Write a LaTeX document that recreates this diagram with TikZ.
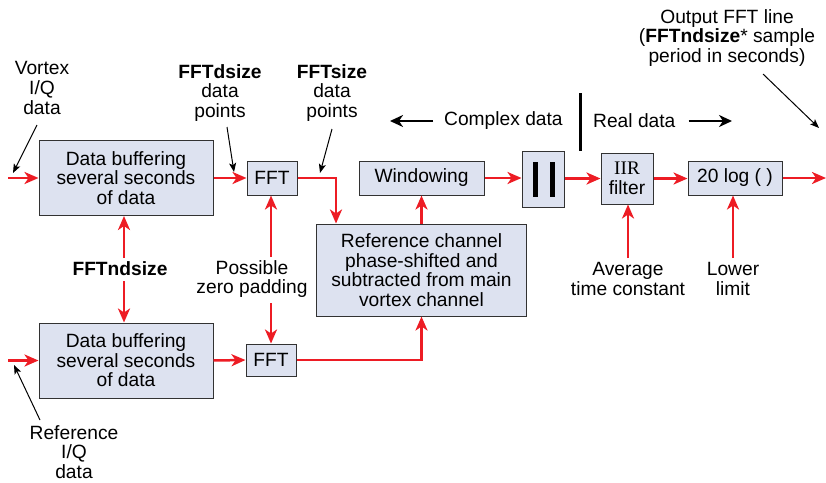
\documentclass[tikz,border=0pt]{standalone}
\usepackage{fontspec}
\setmainfont{Liberation Sans}
\newfontfamily\serifff{Liberation Serif}
\usetikzlibrary{arrows.meta,calc}
\definecolor{boxfill}{RGB}{221,226,240}
\definecolor{boxline}{RGB}{50,50,50}
\definecolor{sigred}{RGB}{237,28,36}
\tikzset{
  blk/.style={draw=boxline, fill=boxfill, line width=1pt, align=center, inner sep=0pt,
     font=\fontsize{19.2}{19.6}\selectfont},
  lbl/.style={align=center, inner sep=0pt, font=\fontsize{19.2}{19.6}\selectfont},
  sig/.style={draw=sigred, line width=2.5pt, -{Stealth[length=14pt,width=12pt,inset=4pt]}},
  note/.style={draw=black, line width=1pt, -{Stealth[length=9pt,width=7pt,inset=2pt]}},
  dirarr/.style={draw=black, line width=2.6pt, -{Stealth[length=13pt,width=12pt,inset=4pt]}},
}
\begin{document}
\begin{tikzpicture}[x=1pt,y=-1pt]
\path[use as bounding box] (0,0) rectangle (826,482);

% blocks
\node[blk, minimum width=174pt, minimum height=75pt] (buf1) at (126,178) {Data buffering\\several seconds\\of data};
\node[blk, minimum width=50pt, minimum height=34pt] (fft1) at (272,178) {FFT};
\node[blk, minimum width=125pt, minimum height=34pt] (win) at (421.5,178) {Windowing};
\node[blk, minimum width=42pt, minimum height=56pt] (abs) at (543,179) {};
\node[blk, minimum width=52pt, minimum height=51pt] (iir) at (627,178.5) {{\serifff IIR}\\filter};
\node[blk, minimum width=94pt, minimum height=34pt] (log) at (735,178) {20 log ( )};
\node[blk, minimum width=210pt, minimum height=92pt] (ref) at (421.5,270) {Reference channel\\phase-shifted and\\subtracted from main\\vortex channel};
\node[blk, minimum width=50pt, minimum height=32pt] (fft2) at (271,360) {FFT};
\node[blk, minimum width=174pt, minimum height=75pt] (buf2) at (126,360.5) {Data buffering\\several seconds\\of data};

% absolute value bars
\fill[black] (532.5,162) rectangle (537.5,197);
\fill[black] (549.5,162) rectangle (554.5,197);

% free ends
\coordinate (in1) at (8,178);
\coordinate (in2) at (8,360.5);
\coordinate (out) at (826,178);
\coordinate (avgtop) at (628,258);
\coordinate (lowtop) at (733,258);
\coordinate (ndtop) at (124,258);
\coordinate (ndbot) at (124,281);
\coordinate (pztop) at (271,257);
\coordinate (pzbot) at (271,303);

% signal connectors
\draw[sig] (in1) -- (buf1.west);
\draw[sig] (in2) -- (buf2.west);
\draw[sig] (buf1.east) -- (fft1.west);
\draw[sig] (fft1.east) -| ([xshift=20pt]ref.north west);
\draw[sig] (win.south |- ref.north) -- (win.south);
\draw[sig] (win.east) -- (abs.west |- win.east);
\draw[sig] (abs.east |- iir.west) -- (iir.west);
\draw[sig] (iir.east) -- (log.west |- iir.east);
\draw[sig] (log.east) -- (out);
\draw[sig] (avgtop) -- (iir.south -| avgtop);
\draw[sig] (lowtop) -- (log.south -| lowtop);
\draw[sig] (buf2.east) -- (fft2.west);
\draw[sig] (fft2.east) -| (ref.south);
\draw[sig] (ndtop) -- (buf1.south -| ndtop);
\draw[sig] (ndbot) -- (buf2.north -| ndbot);
\draw[sig] (pztop) -- (fft1.south -| pztop);
\draw[sig] (pzbot) -- (fft2.north -| pzbot);

% labels
\node[lbl] (ndsize) at (120,269) {\textbf{FFTndsize}};
\node[lbl] (pz) at (252,279) {Possible\\zero padding};
\node[lbl] (avg) at (628,279) {Average\\time constant};
\node[lbl] (low) at (733,279) {Lower\\limit};
\node[lbl] (vortex) at (42,88) {Vortex\\I/Q\\data};
\node[lbl] (refiq) at (74,452) {Reference\\I/Q\\data};
\node[lbl] (dsize) at (220,93) {\textbf{FFTdsize}\\data\\points};
\node[lbl] (fsize) at (332,93) {\textbf{FFTsize}\\data\\points};
\node[lbl] (outl) at (727,38) {Output FFT line\\(\textbf{FFTndsize}* sample\\period in seconds)};
\node[lbl, anchor=west] (cplx) at (444,121) {Complex data};
\node[lbl, anchor=west] (real) at (593,121) {Real data};

% domain separator and direction arrows
\draw[black, line width=3pt] (580,93) -- (580,151);
\coordinate (cplxend) at (390,121);
\coordinate (realend) at (732,121);
\draw[dirarr] ([xshift=-11pt]cplx.west) -- (cplxend);
\draw[dirarr] ([xshift=13pt]real.east) -- (realend);

% annotation arrows
\coordinate (vtip) at (13,173);
\coordinate (rtip) at (14,365);
\coordinate (dtip) at (234,172);
\coordinate (ftip) at (320,173);
\coordinate (otip) at (819,128);
\draw[note] (37,125) -- (vtip);
\draw[note] (40,420) -- (rtip);
\draw[note] (227,127) -- (dtip);
\draw[note] (332,129) -- (ftip);
\draw[note] (763,74) -- (otip);
\end{tikzpicture}
\end{document}
